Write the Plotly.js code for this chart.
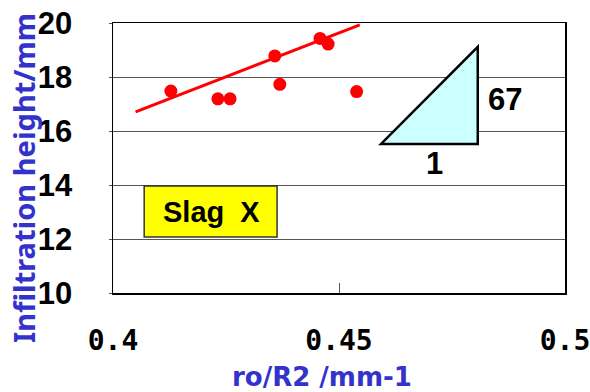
<!DOCTYPE html>
<html>
<head>
<meta charset="utf-8">
<script src="https://cdn.plot.ly/plotly-3.0.1.min.js"></script>
<style>html,body{margin:0;padding:0;background:#fff;}#chart{width:590px;height:392px;}</style>
</head>
<body>
<div id="chart"></div>
<script>
// Data
const ratio = [0.4128, 0.4232, 0.4259, 0.4358, 0.4369, 0.4458, 0.4476, 0.4539];
const height = [17.48, 17.19, 17.19, 18.78, 17.73, 19.43, 19.22, 17.46];
const fitX = [0.4050, 0.4546];
const fitY = [16.71, 19.93];
const xTickVals = [0.4, 0.45, 0.5];
const xTickText = ["0.4", "0.45", "0.5"];
const yTickVals = [10, 12, 14, 16, 18, 20];
const xTitle = "ro/R2 /mm-1";
const yTitle = "Infiltration height/mm";
const slopeRise = "67";
const slopeRun = "1";
const slagLabel = "Slag\u00a0\u00a0X";

const blue = "#3333cc";
const arial = "'Liberation Sans', Arial, sans-serif";
const mono = "'DejaVu Sans Mono', monospace";
const sans = "'Noto Sans', sans-serif";
const dejavu = "'DejaVu Sans', sans-serif";
const traces = [
  {x: fitX, y: fitY, mode: "lines", line: {color: "#ff0000", width: 3}, hoverinfo: "skip", showlegend: false},
  {x: ratio, y: height, mode: "markers", marker: {color: "#ff0000", size: 13}, showlegend: false}
];

const layout = {
  width: 590, height: 392,
  margin: {l: 113, r: 25, t: 23, b: 99},
  paper_bgcolor: "#fff", plot_bgcolor: "#fff",
  showlegend: false,
  xaxis: {
    range: [0.4, 0.5], tickvals: xTickVals, ticktext: xTickText,
    ticks: "inside", ticklen: 10, tickcolor: "#555", tickwidth: 1,
    showgrid: false, zeroline: false,
    showline: true, linecolor: "#000", linewidth: 1.5, mirror: true,
    tickfont: {family: mono, size: 28, color: "#000", weight: 700},
    ticklabelstandoff: 22, ticklabeloverflow: "allow"
  },
  yaxis: {
    range: [10, 20], tickvals: yTickVals,
    ticks: "outside", ticklen: 3, tickcolor: "#555",
    showgrid: true, gridcolor: "#555", gridwidth: 1, zeroline: false,
    showline: true, linecolor: "#000", linewidth: 1.5, mirror: true,
    tickfont: {family: arial, size: 31, color: "#000", weight: 700},
    ticklabelstandoff: 30, ticklabeloverflow: "allow"
  },
  shapes: [
    {type: "path", xref: "x", yref: "y",
     path: "M 0.4593 15.52 L 0.4807 15.52 L 0.4807 19.12 Z",
     fillcolor: "#ccffff", line: {color: "#000", width: 2.5}},
    {type: "rect", xref: "x", yref: "y", x0: 0.4069, x1: 0.4363, y0: 12.07, y1: 13.96,
     fillcolor: "#ffff00", line: {color: "#333", width: 1.5}}
  ],
  annotations: [
    {x: 0.4867, y: 17.15, xref: "x", yref: "y", text: slopeRise, showarrow: false,
     font: {family: arial, size: 31, color: "#000", weight: 700}},
    {x: 0.4712, y: 14.81, xref: "x", yref: "y", text: slopeRun, showarrow: false,
     font: {family: arial, size: 31, color: "#000", weight: 700}},
    {x: 0.4217, y: 13.0, xref: "x", yref: "y", text: slagLabel, showarrow: false,
     font: {family: arial, size: 29, color: "#000", weight: 700}},
    {x: 322 / 590, y: 1 - 377 / 392, xref: "paper", yref: "paper", xanchor: "center", yanchor: "middle",
     text: xTitle, showarrow: false, font: {family: dejavu, size: 26, color: blue, weight: 700}},
    {x: 23 / 590, y: 1 - 178 / 392, xref: "paper", yref: "paper", xanchor: "center", yanchor: "middle",
     text: yTitle, textangle: -90, showarrow: false, font: {family: sans, size: 29, color: blue, weight: 700}}
  ]
};

// convert paper-pixel annotation positions relative to the plot area
const pw = 590 - layout.margin.l - layout.margin.r, ph = 392 - layout.margin.t - layout.margin.b;
layout.annotations.slice(3).forEach(a => {
  const px = a.x * 590, py = (1 - a.y) * 392;
  a.x = (px - layout.margin.l) / pw;
  a.y = 1 - (py - layout.margin.t) / ph;
});

Plotly.newPlot("chart", traces, layout, {displayModeBar: false, staticPlot: true});
</script>
</body>
</html>
